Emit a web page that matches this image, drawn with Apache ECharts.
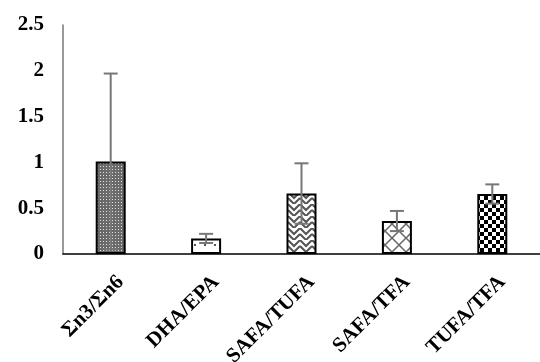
<!DOCTYPE html>
<html><head><meta charset="utf-8">
<script src="https://cdn.jsdelivr.net/npm/echarts@6/dist/echarts.min.js"></script>
<style>html,body{margin:0;padding:0;background:#fff}#c{width:540px;height:362px}</style>
</head><body><div id="c"></div>
<script>
const categories = ['Σn3/Σn6', 'DHA/EPA', 'SAFA/TUFA', 'SAFA/TFA', 'TUFA/TFA'];
const values = [1.01, 0.17, 0.66, 0.36, 0.655];
const errors = [0.96, 0.05, 0.33, 0.11, 0.105];
const yTicks = [0, 0.5, 1, 1.5, 2, 2.5];

function tile(w, h, draw) {
  const c = document.createElement('canvas');
  c.width = w; c.height = h;
  const g = c.getContext('2d');
  g.fillStyle = '#fff'; g.fillRect(0, 0, w, h);
  draw(g);
  return { image: c, repeat: 'repeat' };
}
const patterns = [
  tile(3, 3, g => { g.fillStyle = '#6a6a6a'; g.fillRect(0, 0, 3, 3); g.fillStyle = '#e0e0e0'; g.fillRect(1, 1, 1, 1); }),
  tile(10, 10, g => { g.fillStyle = '#555'; g.fillRect(4, 4, 2, 2); }),
  tile(12, 12, g => {
    g.strokeStyle = '#555'; g.lineWidth = 2;
    g.beginPath();
    g.moveTo(0, 0); g.lineTo(6, 6); g.lineTo(12, 0);
    g.moveTo(0, 6); g.lineTo(6, 12); g.lineTo(12, 6);
    g.stroke();
  }),
  tile(14, 14, g => {
    g.strokeStyle = '#666'; g.lineWidth = 1.5;
    g.beginPath();
    g.moveTo(0, 0); g.lineTo(14, 14);
    g.moveTo(14, 0); g.lineTo(0, 14);
    g.stroke();
  }),
  tile(8, 8, g => { g.fillStyle = '#000'; g.fillRect(0, 0, 4, 4); g.fillRect(4, 4, 4, 4); })
];

const chart = echarts.init(document.getElementById('c'));
const font = '"Liberation Serif", "Times New Roman", serif';
chart.setOption({
  animation: false,
  grid: { left: 63, right: 0, top: 25, bottom: 108, outerBoundsMode: 'none', containLabel: false },
  xAxis: {
    type: 'category', data: categories,
    axisLine: { lineStyle: { color: '#000', width: 1.5 } },
    axisTick: { show: false },
    axisLabel: { rotate: 45, margin: 15, lineHeight: 28, fontFamily: font, fontWeight: 'bold', fontSize: 21, color: '#000', interval: 0,
      formatter: v => ' \n' + v }
  },
  yAxis: {
    type: 'value', min: 0, max: 2.5, interval: 0.5,
    axisLine: { show: true, lineStyle: { color: '#777', width: 1.5 } },
    axisTick: { show: false },
    splitLine: { show: false },
    axisLabel: { margin: 19, fontFamily: font, fontWeight: 'bold', fontSize: 21, color: '#000',
      formatter: v => yTicks.includes(v) ? String(v) : '' }
  },
  series: [
    {
      type: 'bar', barWidth: 30,
      data: values.map((v, i) => ({ value: v, itemStyle: { color: patterns[i], borderColor: '#000', borderWidth: 2 } })),
      z: 2
    },
    {
      type: 'custom', z: 5,
      data: values.map((v, i) => [i, v - errors[i], v + errors[i]]),
      renderItem: (params, api) => {
        const lo = api.coord([api.value(0), api.value(1)]);
        const hi = api.coord([api.value(0), api.value(2)]);
        const x = hi[0], cw = 7;
        const st = { stroke: '#777', lineWidth: 2 };
        return { type: 'group', children: [
          { type: 'line', shape: { x1: x, y1: hi[1], x2: x, y2: lo[1] }, style: st },
          { type: 'line', shape: { x1: x - cw, y1: hi[1], x2: x + cw, y2: hi[1] }, style: st },
          { type: 'line', shape: { x1: x - cw, y1: lo[1], x2: x + cw, y2: lo[1] }, style: st }
        ] };
      }
    }
  ]
});
</script></body></html>
